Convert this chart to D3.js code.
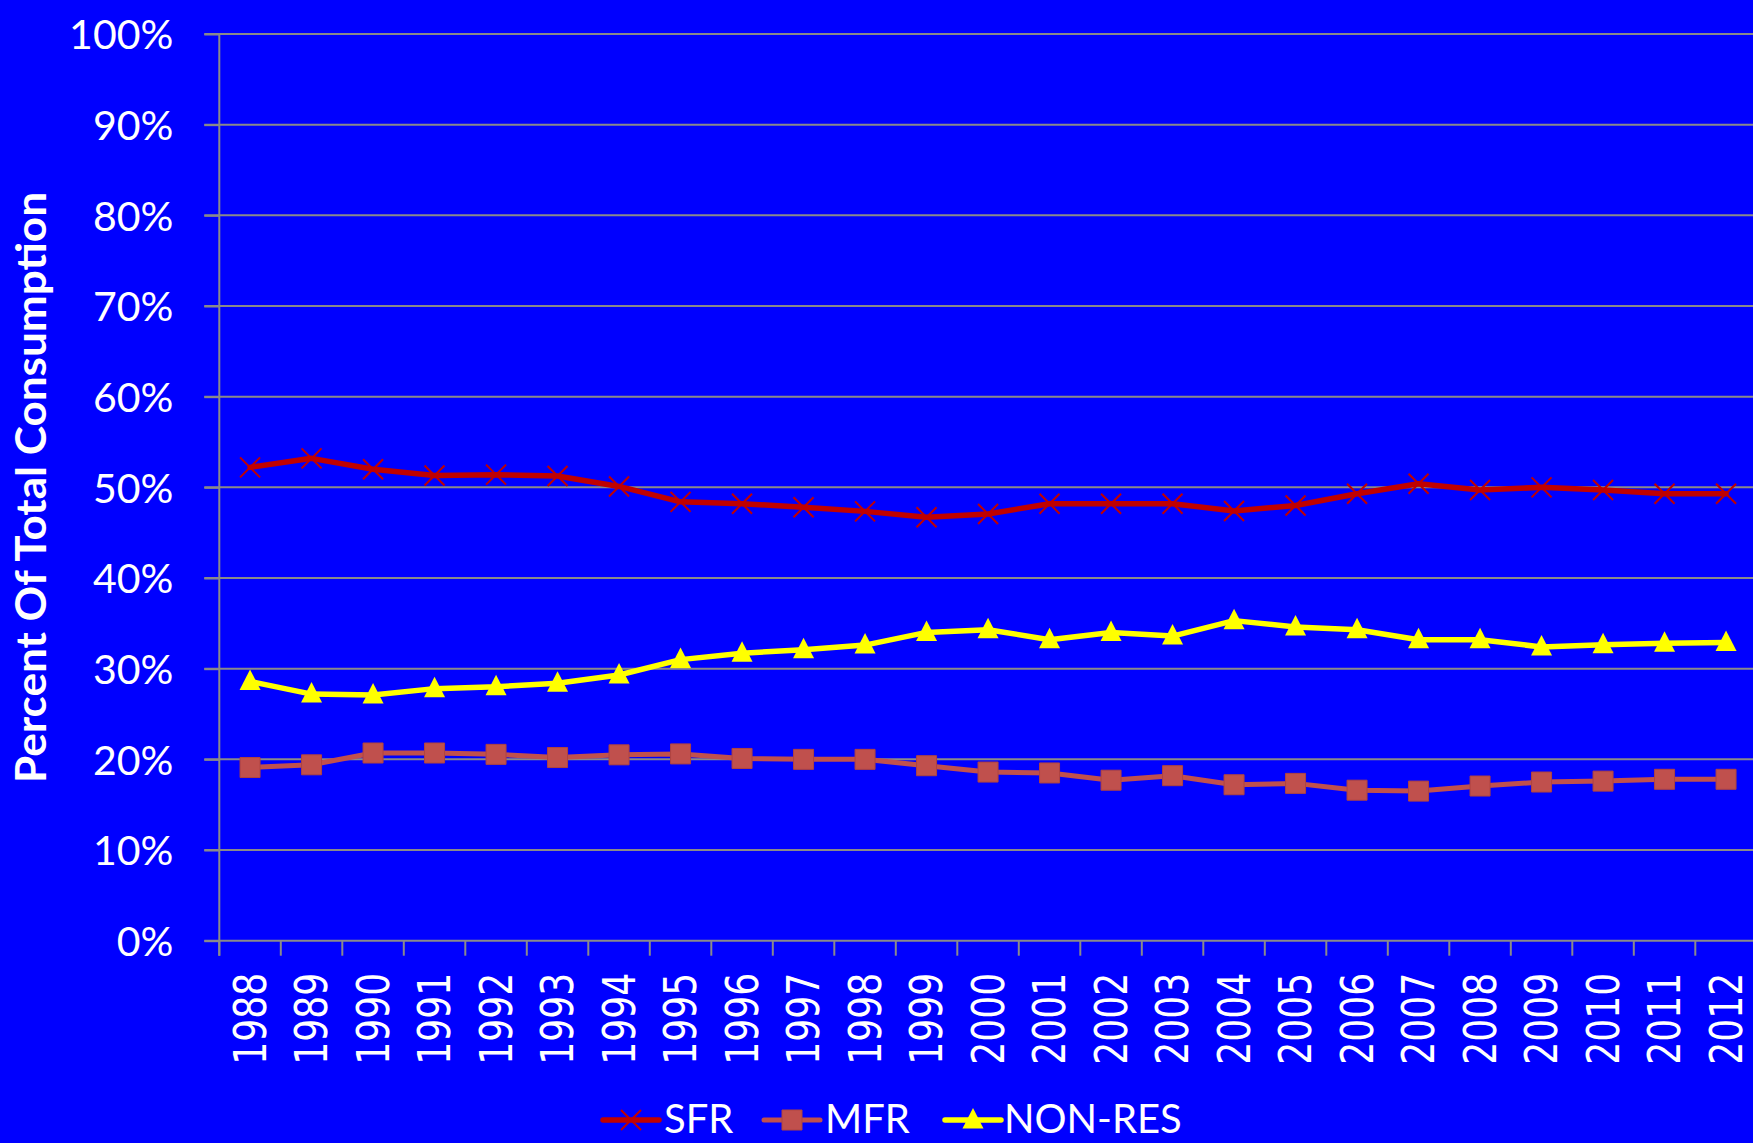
<!DOCTYPE html>
<html>
<head>
<meta charset="utf-8">
<script src="https://cdn.jsdelivr.net/npm/d3@7"></script>
<style>
  html, body { margin: 0; padding: 0; background: #0000FF; overflow: hidden; }
  svg { display: block; }
</style>
</head>
<body>
<svg id="chart" width="1753" height="1143"></svg>
<script>
// ---- data ----
const years = ["1988","1989","1990","1991","1992","1993","1994","1995","1996","1997","1998","1999","2000","2001","2002","2003","2004","2005","2006","2007","2008","2009","2010","2011","2012"];
const sfr = [52.2, 53.2, 52.0, 51.3, 51.4, 51.25, 50.1, 48.4, 48.2, 47.8, 47.35, 46.7, 47.06, 48.2, 48.2, 48.2, 47.4, 48.0, 49.3, 50.4, 49.7, 50.0, 49.7, 49.3, 49.3];
const mfr = [19.1, 19.4, 20.7, 20.7, 20.55, 20.2, 20.5, 20.6, 20.1, 20.0, 20.0, 19.3, 18.6, 18.5, 17.7, 18.2, 17.2, 17.35, 16.6, 16.5, 17.06, 17.5, 17.6, 17.8, 17.8];
const nonres = [28.6, 27.2, 27.1, 27.8, 28.0, 28.4, 29.3, 31.0, 31.7, 32.1, 32.6, 34.0, 34.3, 33.2, 34.0, 33.6, 35.3, 34.6, 34.3, 33.2, 33.2, 32.4, 32.65, 32.8, 32.9];
const seriesNames = ["SFR", "MFR", "NON-RES"];
const yTicks = [0,10,20,30,40,50,60,70,80,90,100];
const yTitle = "Percent Of Total Consumption";

// ---- layout ----
const W = 1753, H = 1143;
const plotLeft = 219.3, bandW = 61.5;
const plotTop = 34, plotBottom = 940.7;
const svg = d3.select("#chart");

const x = d3.scaleBand().domain(years).range([plotLeft, plotLeft + bandW * years.length]).padding(0);
const y = d3.scaleLinear().domain([0, 100]).range([plotBottom, plotTop]);

const gridColor = "#8a8a8a";
const fontMain = "Lato, 'Open Sans', sans-serif";

// gridlines
svg.append("g").selectAll("line").data(yTicks).join("line")
  .attr("x1", plotLeft - 15).attr("x2", W)
  .attr("y1", d => y(d)).attr("y2", d => y(d))
  .attr("stroke", gridColor).attr("stroke-width", 2);

// y axis
const yAxis = svg.append("g").attr("transform", `translate(${plotLeft},0)`)
  .call(d3.axisLeft(y).tickValues(yTicks).tickFormat(d => d + "%").tickSize(15).tickSizeOuter(0).tickPadding(31));
yAxis.select(".domain").remove();
yAxis.selectAll(".tick line").attr("stroke", gridColor).attr("stroke-width", 2);
yAxis.selectAll(".tick text").attr("fill", "#ffffff").attr("font-family", fontMain).attr("font-size", 41).attr("dy", "0.36em");
svg.append("line").attr("x1", plotLeft).attr("x2", plotLeft).attr("y1", plotTop).attr("y2", plotBottom + 15)
  .attr("stroke", gridColor).attr("stroke-width", 2);

// x ticks at band boundaries
svg.append("g").selectAll("line").data(years).join("line")
  .attr("x1", d => x(d)).attr("x2", d => x(d))
  .attr("y1", plotBottom).attr("y2", plotBottom + 15)
  .attr("stroke", gridColor).attr("stroke-width", 2);

// x labels
svg.append("g").selectAll("text").data(years).join("text")
  .attr("transform", d => `translate(${x(d) + x.bandwidth() / 2},${plotBottom + 32}) rotate(-90)`)
  .attr("text-anchor", "end").attr("dy", "0.36em")
  .attr("fill", "#ffffff").attr("font-family", "'DejaVu Sans', sans-serif").attr("font-size", 44)
  .attr("textLength", 92).attr("lengthAdjust", "spacingAndGlyphs")
  .text(d => d);

// y title
svg.append("text")
  .attr("transform", `translate(31,487.5) rotate(-90)`)
  .attr("text-anchor", "middle").attr("dy", "0.36em")
  .attr("fill", "#ffffff").attr("font-family", fontMain).attr("font-weight", "bold").attr("font-size", 42)
  .attr("textLength", 591).attr("lengthAdjust", "spacingAndGlyphs")
  .text(yTitle);

// marker paths
const xMark = "M-10,-10L10,10M-10,10L10,-10";
const sqMark = "M-10,-10H10V10H-10Z";
const triMark = "M0,-12L10.5,8.5L-10.5,8.5Z";

const series = [
  { name: seriesNames[0], values: sfr, color: "#C00000", width: 5.5, marker: xMark, mFill: "none", mStroke: "#C00000", mSW: 2 },
  { name: seriesNames[1], values: mfr, color: "#C0504D", width: 5, marker: sqMark, mFill: "#C0504D", mStroke: "#B04440", mSW: 1 },
  { name: seriesNames[2], values: nonres, color: "#FFFF00", width: 5.5, marker: triMark, mFill: "#FFFF00", mStroke: "none", mSW: 0 }
];

const line = d3.line().x((d, i) => x(years[i]) + x.bandwidth() / 2).y(d => y(d));

series.forEach(s => {
  const g = svg.append("g");
  g.append("path").datum(s.values).attr("d", line)
    .attr("fill", "none").attr("stroke", s.color).attr("stroke-width", s.width)
    .attr("stroke-linejoin", "round").attr("stroke-linecap", "round");
  g.selectAll("path.m").data(s.values).join("path").attr("class", "m")
    .attr("d", s.marker)
    .attr("transform", (d, i) => `translate(${x(years[i]) + x.bandwidth() / 2},${y(d)})`)
    .attr("fill", s.mFill).attr("stroke", s.mStroke).attr("stroke-width", s.mSW);
});

// legend
const legendY = 1120;
const legendItems = [
  { s: series[0], x1: 603, x2: 659, tx: 664 },
  { s: series[1], x1: 764, x2: 820, tx: 825 },
  { s: series[2], x1: 945, x2: 1001, tx: 1004 }
];
const lg = svg.append("g");
legendItems.forEach(it => {
  lg.append("line").attr("x1", it.x1).attr("x2", it.x2).attr("y1", legendY).attr("y2", legendY)
    .attr("stroke", it.s.color).attr("stroke-width", it.s.width).attr("stroke-linecap", "round");
  lg.append("path").attr("d", it.s.marker)
    .attr("transform", `translate(${(it.x1 + it.x2) / 2},${legendY})`)
    .attr("fill", it.s.mFill).attr("stroke", it.s.mStroke).attr("stroke-width", it.s.mSW);
  lg.append("text").attr("x", it.tx).attr("y", 1133)
    .attr("fill", "#ffffff").attr("font-family", fontMain).attr("font-size", 40)
    .text(it.s.name);
});
</script>
</body>
</html>
